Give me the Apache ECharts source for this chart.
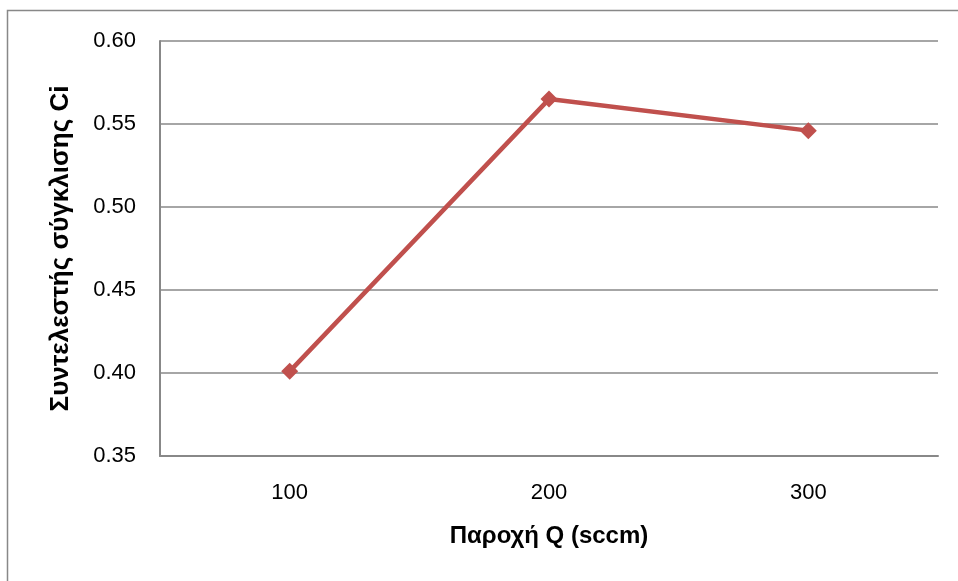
<!DOCTYPE html>
<html>
<head>
<meta charset="utf-8">
<script src="https://cdn.jsdelivr.net/npm/echarts@6/dist/echarts.min.js"></script>
<style>
  html, body { margin: 0; padding: 0; background: #fff; }
  #chart { width: 958px; height: 581px; }
</style>
</head>
<body>
<div id="chart"></div>
<script>
// Flow rate categories (sccm) and measured convergence coefficient Ci
const flowRates = ['100', '200', '300'];
const ciValues = [0.401, 0.565, 0.546];
const yTicks = { min: 0.35, max: 0.60, step: 0.05 };

const chart = echarts.init(document.getElementById('chart'), null, { renderer: 'canvas' });
const font = '"Liberation Sans", Arial, sans-serif';

chart.setOption({
  animation: false,
  backgroundColor: '#ffffff',
  graphic: [{
    type: 'rect',
    shape: { x: 7.5, y: 10.5, width: 980, height: 600 },
    style: { fill: 'none', stroke: '#888888', lineWidth: 1.5 },
    silent: true
  }],
  grid: { left: 160, right: 20, top: 41, bottom: 125, containLabel: false },
  xAxis: {
    type: 'category',
    data: flowRates,
    boundaryGap: true,
    name: 'Παροχή Q (sccm)',
    nameLocation: 'middle',
    nameGap: 68,
    nameTextStyle: { fontFamily: font, fontSize: 24, fontWeight: 'bold', color: '#000' },
    axisLine: { lineStyle: { color: '#888888', width: 2 } },
    axisTick: { show: false },
    axisLabel: { fontFamily: font, fontSize: 22, color: '#000', margin: 26 },
    splitLine: { show: false }
  },
  yAxis: {
    type: 'value',
    min: yTicks.min,
    max: yTicks.max,
    interval: yTicks.step,
    name: 'Συντελεστής σύγκλισης Ci',
    nameLocation: 'middle',
    nameGap: 86,
    nameTextStyle: { fontFamily: font, fontSize: 26, fontWeight: 'bold', color: '#000' },
    axisLine: { show: true, lineStyle: { color: '#888888', width: 2 } },
    axisTick: { show: false },
    axisLabel: {
      fontFamily: font, fontSize: 22, color: '#000', margin: 24,
      formatter: v => v.toFixed(2)
    },
    splitLine: { show: true, lineStyle: { color: '#888888', width: 1.5 } }
  },
  series: [{
    type: 'line',
    data: ciValues,
    symbol: 'diamond',
    symbolSize: 17,
    lineStyle: { color: '#c0504d', width: 4.5 },
    itemStyle: { color: '#c0504d' },
    z: 5
  }]
});
</script>
</body>
</html>
